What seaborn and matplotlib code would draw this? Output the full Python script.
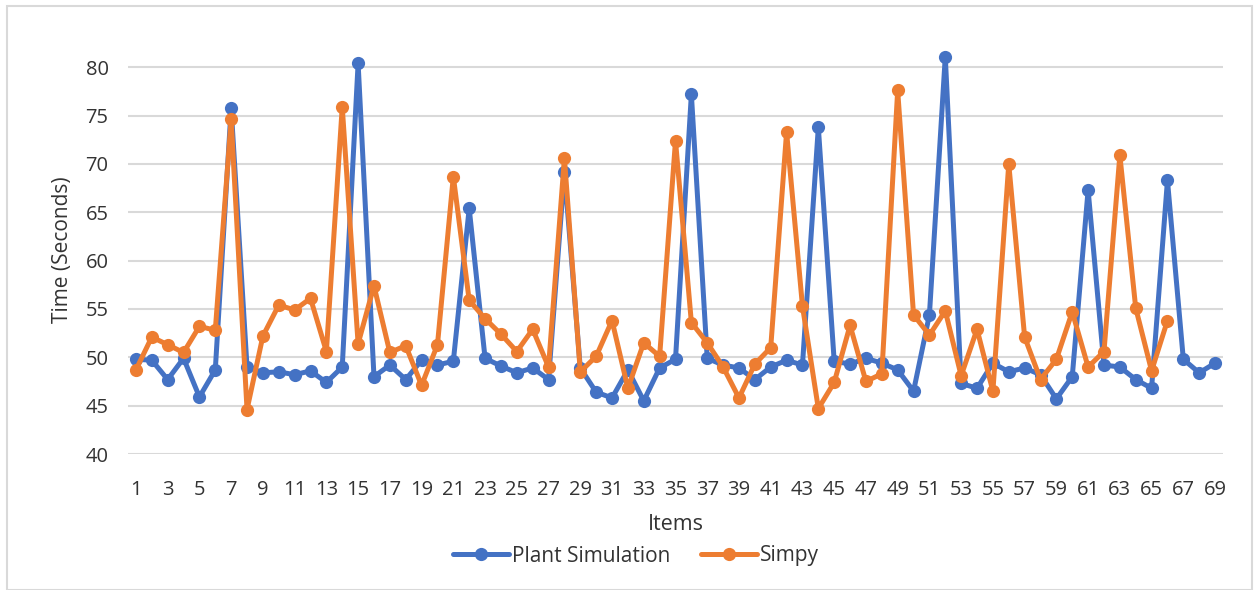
import matplotlib
matplotlib.use("Agg")
import matplotlib.pyplot as plt
from matplotlib.patches import Rectangle
from matplotlib.lines import Line2D
import seaborn as sns
import pandas as pd
import numpy as np

# Completion time per item for the two simulation tools
plant_simulation = [
    49.8, 49.7, 47.7, 49.9, 45.9, 48.7, 75.8, 49.0, 48.4, 48.5,
    48.2, 48.6, 47.4, 49.0, 80.4, 48.0, 49.2, 47.7, 49.7, 49.2,
    49.6, 65.4, 49.9, 49.1, 48.4, 48.9, 47.7, 69.2, 48.9, 46.4,
    45.8, 48.7, 45.5, 48.9, 49.8, 77.2, 49.9, 49.2, 48.9, 47.7,
    49.0, 49.7, 49.2, 73.8, 49.6, 49.3, 49.9, 49.4, 48.7, 46.5,
    54.4, 81.1, 47.3, 46.8, 49.4, 48.5, 48.9, 48.2, 45.7, 48.0,
    67.3, 49.2, 49.0, 47.7, 46.8, 68.3, 49.8, 48.4, 49.4,
]
simpy = [
    48.7, 52.1, 51.3, 50.5, 53.2, 52.8, 74.6, 44.6, 52.2, 55.4,
    54.9, 56.1, 50.6, 75.9, 51.4, 57.4, 50.5, 51.2, 47.1, 51.3,
    68.7, 55.9, 54.0, 52.4, 50.6, 52.9, 49.0, 70.6, 48.5, 50.1,
    53.8, 46.8, 51.5, 50.1, 72.4, 53.6, 51.5, 49.0, 45.8, 49.3,
    51.0, 73.3, 55.3, 44.7, 47.4, 53.3, 47.5, 48.3, 77.6, 54.4,
    52.3, 54.8, 48.1, 52.9, 46.5, 70.0, 52.1, 47.7, 49.8, 54.7,
    49.0, 50.6, 70.9, 55.1, 48.6, 53.8,
]
series_names = ["Plant Simulation", "Simpy"]
series_colors = ["#4472C4", "#ED7D31"]
y_ticks = [40, 45, 50, 55, 60, 65, 70, 75, 80]
x_ticks = list(range(1, 70, 2))

frames = []
for name, vals in zip(series_names, [plant_simulation, simpy]):
    frames.append(pd.DataFrame({"Items": np.arange(1, len(vals) + 1),
                                "Time": vals, "Series": name}))
df = pd.concat(frames, ignore_index=True)

sns.set_theme(style="white")
plt.rcParams["font.family"] = ["Open Sans", "DejaVu Sans"]
text_color = "#333333"

fig = plt.figure(figsize=(12.54, 5.90), dpi=100)
ax = fig.add_axes([128 / 1254, 1 - 454 / 590, (1223 - 128) / 1254, (454 - 46) / 590])

sns.lineplot(data=df, x="Items", y="Time", hue="Series",
             hue_order=series_names, palette=series_colors,
             marker="o", markersize=9.5, markeredgewidth=0,
             linewidth=3.6, legend=False, ax=ax, zorder=3)

ax.set_xlim(0.5, 69.5)
ax.set_ylim(40, 82.2)
ax.set_yticks(y_ticks)
ax.set_xticks(x_ticks)
ax.tick_params(axis="both", length=0, labelsize=14.5, labelcolor=text_color)
ax.tick_params(axis="x", pad=19)
ax.tick_params(axis="y", pad=14)
for s in ax.spines.values():
    s.set_visible(False)
for yv in y_ticks:
    ax.axhline(yv, color="#d9d9d9", linewidth=1.5, zorder=1)

ax.set_xlabel("Items", fontsize=15.5, color=text_color, labelpad=10)
ax.set_ylabel("Time (Seconds)", fontsize=15, color=text_color, labelpad=9)

handles = [Line2D([0], [0], color=c, linewidth=3.6, marker="o",
                  markersize=9.5, markeredgewidth=0) for c in series_colors]
fig.legend(handles, series_names, loc="center", ncol=2, frameon=False,
           bbox_to_anchor=(636 / 1254, 1 - 556 / 590), fontsize=15,
           labelcolor=text_color, handlelength=2.7, handletextpad=0.15,
           columnspacing=1.45)

fig.patches.append(Rectangle((7 / 1254, 0), (1252 - 7) / 1254, 1 - 6 / 590,
                             transform=fig.transFigure, fill=False,
                             edgecolor="#d9d9d9", linewidth=1.5))

fig.savefig("out.png", dpi=100, facecolor="white")
